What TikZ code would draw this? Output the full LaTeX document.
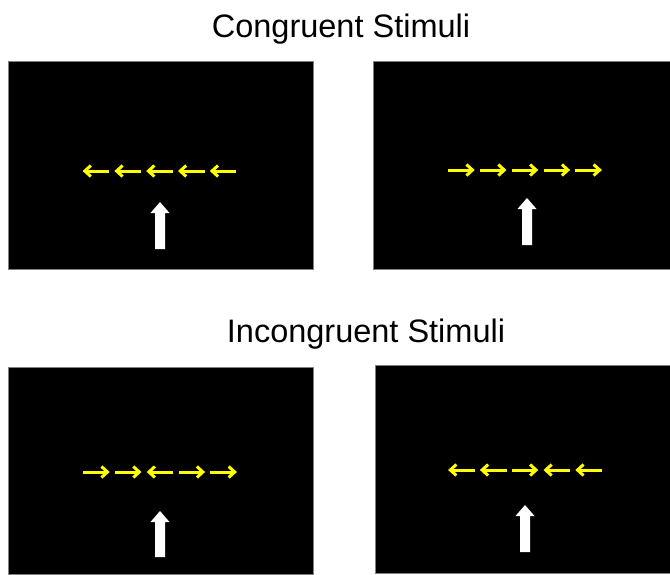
\documentclass[tikz,border=0pt]{standalone}
\usepackage{fontspec}
\setmainfont{Liberation Sans}
\usetikzlibrary{arrows.meta}
\definecolor{flank}{RGB}{255,255,0}
\definecolor{rim}{RGB}{128,128,128}
\tikzset{
  panel/.style={draw=rim, line width=0.8pt, fill=black, inner sep=0pt},
  heading/.style={font=\fontsize{32.5}{38}\selectfont, inner sep=0pt, anchor=base},
  flanker/.style={draw=flank, line width=3pt, -{Straight Barb[length=6pt,width=11pt]}},
  cue/.style={fill=white, draw=none}
}
% row of five flanker arrows: centre x, centre y, list of directions (+1 right, -1 left)
\newcommand{\flankrow}[3]{%
  \foreach \d [count=\i] in {#3} {
    \draw[flanker] ({#1+(\i-3)*31.8-\d*13.3},#2) -- ({#1+(\i-3)*31.8+\d*13.3},#2);
  }}
% upward white cue arrow: centre x, top y, bottom y
\newcommand{\cuearrow}[3]{%
  \fill[cue] (#1-5,#3) -- (#1-5,#2+11) -- (#1-9.5,#2+11) -- (#1,#2) -- (#1+9.5,#2+11) -- (#1+5,#2+11) -- (#1+5,#3) -- cycle;}
\begin{document}
\begin{tikzpicture}[x=1pt,y=-1pt]
  \useasboundingbox (0,0) rectangle (670,574);
  \fill[white] (0,0) rectangle (670,574);

  \node[heading] (t1) at (341,37) {Congruent Stimuli};
  \node[heading] (t2) at (366,342) {Incongruent Stimuli};

  \node[panel, minimum width=305pt, minimum height=208pt] (p1) at (160.5,165) {};
  \node[panel, minimum width=298pt, minimum height=208pt] (p2) at (522,165) {};
  \node[panel, minimum width=305pt, minimum height=207pt] (p3) at (160.5,470.5) {};
  \node[panel, minimum width=296pt, minimum height=208pt] (p4) at (523,469) {};

  \flankrow{159.5}{171}{-1,-1,-1,-1,-1}
  \cuearrow{160}{202}{249}

  \flankrow{525}{170}{1,1,1,1,1}
  \cuearrow{527}{198}{245}

  \flankrow{160}{472}{1,1,-1,1,1}
  \cuearrow{160}{511}{557}

  \flankrow{525}{470}{-1,-1,1,-1,-1}
  \cuearrow{525}{505}{552}
\end{tikzpicture}
\end{document}
